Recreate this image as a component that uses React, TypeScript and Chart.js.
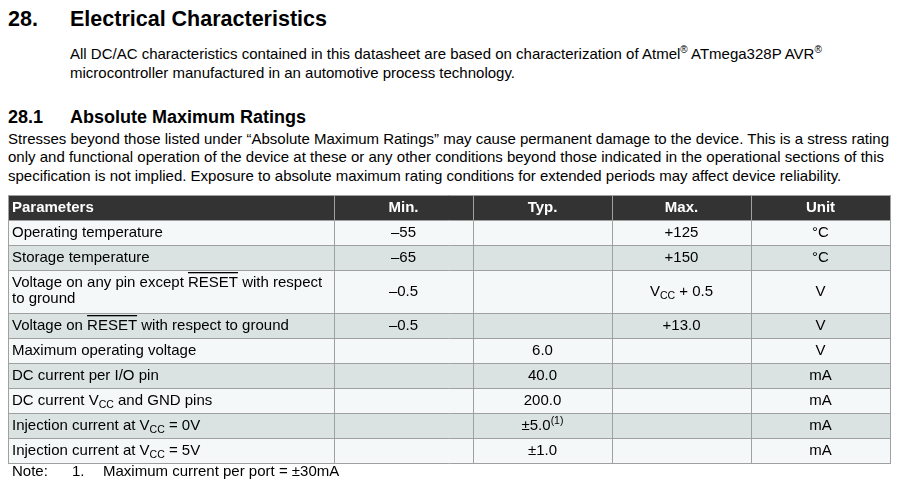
import React, { useEffect, useRef } from "react";
import { Chart, registerables } from "chart.js";

Chart.register(...registerables);

// ---- table content ----
const columns = ["Parameters", "Min.", "Typ.", "Max.", "Unit"];
const parameters = [
  "Operating temperature",
  "Storage temperature",
  "Voltage on any pin except ~{RESET} with respect\nto ground",
  "Voltage on ~{RESET} with respect to ground",
  "Maximum operating voltage",
  "DC current per I/O pin",
  "DC current V_{CC} and GND pins",
  "Injection current at V_{CC} = 0V",
  "Injection current at V_{CC} = 5V",
];
const minValues = ["–55", "–65", "–0.5", "–0.5", "", "", "", "", ""];
const typValues = ["", "", "", "", "6.0", "40.0", "200.0", "±5.0^{(1)}", "±1.0"];
const maxValues = ["+125", "+150", "V_{CC} + 0.5", "+13.0", "", "", "", "", ""];
const unitValues = ["°C", "°C", "V", "V", "V", "mA", "mA", "mA", "mA"];

// ---- layout (not data) ----
const colWidths = [326, 139, 139, 139, 139];
const headerHeight = 25;
const lineRowHeight = 25;
const twoLineRowHeight = 43;

const FONT = "'Liberation Sans', Arial, Helvetica, sans-serif";

type Seg = { t: string; k: "n" | "sub" | "sup" | "over" };

function parseRich(s: string): Seg[] {
  const out: Seg[] = [];
  const re = /(_\{[^}]*\}|\^\{[^}]*\}|~\{[^}]*\})/g;
  let last = 0;
  let m: RegExpExecArray | null;
  while ((m = re.exec(s))) {
    if (m.index > last) out.push({ t: s.slice(last, m.index), k: "n" });
    const tok = m[0];
    const inner = tok.slice(2, -1);
    out.push({ t: inner, k: tok[0] === "_" ? "sub" : tok[0] === "^" ? "sup" : "over" });
    last = m.index + tok.length;
  }
  if (last < s.length) out.push({ t: s.slice(last), k: "n" });
  return out;
}

function drawRich(
  ctx: CanvasRenderingContext2D,
  s: string,
  x: number,
  y: number,
  align: "left" | "center",
  size: number,
  bold: boolean,
  color: string
) {
  const segs = parseRich(s);
  const mainFont = `${bold ? "bold " : ""}${size}px ${FONT}`;
  const smallFont = `${bold ? "bold " : ""}${size * 0.7}px ${FONT}`;
  const widths = segs.map((sg) => {
    ctx.font = sg.k === "sub" || sg.k === "sup" ? smallFont : mainFont;
    return ctx.measureText(sg.t).width;
  });
  const total = widths.reduce((a, b) => a + b, 0);
  let cx = align === "center" ? x - total / 2 : x;
  ctx.fillStyle = color;
  ctx.textBaseline = "alphabetic";
  ctx.textAlign = "left";
  segs.forEach((sg, i) => {
    let yy = y;
    if (sg.k === "sub") {
      ctx.font = smallFont;
      yy = y + 3.5;
    } else if (sg.k === "sup") {
      ctx.font = smallFont;
      yy = y - 5.5;
    } else {
      ctx.font = mainFont;
    }
    ctx.fillText(sg.t, cx, yy);
    if (sg.k === "over") {
      ctx.fillStyle = color;
      ctx.fillRect(cx, Math.round(y - 15), widths[i], 1.3);
    }
    cx += widths[i];
  });
}

const tablePlugin = {
  id: "datasheetTable",
  afterDraw(chart: any) {
    const { ctx } = chart;
    const xs = chart.scales.x;
    const ys = chart.scales.y;
    const px = (v: number) => xs.getPixelForValue(v);
    const py = (v: number) => ys.getPixelForValue(v);

    const colEdges = [0];
    colWidths.forEach((w) => colEdges.push(colEdges[colEdges.length - 1] + w));
    const rowHeights = [
      headerHeight,
      ...parameters.map((p) => (p.includes("\n") ? twoLineRowHeight : lineRowHeight)),
    ];
    const rowEdges = [0];
    rowHeights.forEach((h) => rowEdges.push(rowEdges[rowEdges.length - 1] + h));
    const W = colEdges[colEdges.length - 1];

    ctx.save();
    // backgrounds
    rowHeights.forEach((h, r) => {
      ctx.fillStyle = r === 0 ? "#333333" : r % 2 === 1 ? "#f4f8f8" : "#dae3e1";
      ctx.fillRect(px(0), py(rowEdges[r]), px(W) - px(0), py(rowEdges[r + 1]) - py(rowEdges[r]));
    });

    // grid lines
    ctx.strokeStyle = "#a0a0a0";
    ctx.lineWidth = 1;
    rowEdges.forEach((e) => {
      const yy = Math.round(py(e)) + 0.5;
      ctx.beginPath();
      ctx.moveTo(Math.round(px(0)), yy);
      ctx.lineTo(Math.round(px(W)) + 1, yy);
      ctx.stroke();
    });
    colEdges.forEach((e) => {
      const xx = Math.round(px(e)) + 0.5;
      ctx.beginPath();
      ctx.moveTo(xx, Math.round(py(0)));
      ctx.lineTo(xx, Math.round(py(rowEdges[rowEdges.length - 1])) + 1);
      ctx.stroke();
    });

    // header text
    const hc = (py(0) + py(headerHeight)) / 2 + 4;
    columns.forEach((c, i) => {
      if (i === 0) drawRich(ctx, c, px(colEdges[0]) + 4, hc, "left", 15, true, "#ffffff");
      else drawRich(ctx, c, (px(colEdges[i]) + px(colEdges[i + 1])) / 2, hc, "center", 15, true, "#ffffff");
    });

    // body
    const cols = [parameters, minValues, typValues, maxValues, unitValues];
    parameters.forEach((_, r) => {
      const top = py(rowEdges[r + 1]);
      const bot = py(rowEdges[r + 2]);
      const mid = (top + bot) / 2;
      cols.forEach((col, ci) => {
        const txt = col[r];
        if (!txt) return;
        const lines = txt.split("\n");
        const lh = 16.5;
        lines.forEach((ln, li) => {
          const base = mid + 4.2 - ((lines.length - 1) * lh) / 2 - (lines.length > 1 ? 0.6 : 0) + li * lh;
          if (ci === 0) drawRich(ctx, ln, px(colEdges[0]) + 4, base, "left", 15, false, "#000000");
          else drawRich(ctx, ln, (px(colEdges[ci]) + px(colEdges[ci + 1])) / 2, base, "center", 15, false, "#000000");
        });
      });
    });
    ctx.restore();
  },
};

function TableChart() {
  const ref = useRef<HTMLCanvasElement | null>(null);
  useEffect(() => {
    if (!ref.current) return;
    const totalW = colWidths.reduce((a, b) => a + b, 0);
    const totalH =
      headerHeight +
      parameters.reduce((a, p) => a + (p.includes("\n") ? twoLineRowHeight : lineRowHeight), 0);
    const chart = new Chart(ref.current, {
      type: "scatter",
      data: { datasets: [{ data: [], pointRadius: 0 }] },
      options: {
        animation: false,
        responsive: false,
        maintainAspectRatio: false,
        devicePixelRatio: 1,
        layout: { padding: { left: 1, top: 1, right: 2, bottom: 2 } },
        plugins: { legend: { display: false }, tooltip: { enabled: false } },
        events: [],
        scales: {
          x: { type: "linear", min: 0, max: totalW, display: false },
          y: { type: "linear", min: 0, max: totalH, reverse: true, display: false },
        },
      },
      plugins: [tablePlugin],
    } as any);
    return () => chart.destroy();
  }, []);
  return (
    <canvas
      ref={ref}
      width={885}
      height={271}
      style={{ position: "absolute", left: 7, top: 194, width: 885, height: 271 }}
    />
  );
}

const sup: React.CSSProperties = { fontSize: 10, position: "relative", top: -6 };

export default function App() {
  const abs = (left: number, top: number, extra: React.CSSProperties = {}): React.CSSProperties => ({
    position: "absolute",
    left,
    top,
    whiteSpace: "nowrap",
    ...extra,
  });
  const h1: React.CSSProperties = { fontWeight: "bold", fontSize: 21.5, lineHeight: "25px" };
  const h2: React.CSSProperties = { fontWeight: "bold", fontSize: 18, lineHeight: "21px" };
  const p1: React.CSSProperties = { fontSize: 15, lineHeight: "19px" };
  const p2: React.CSSProperties = { fontSize: 15, lineHeight: "18.5px" };
  return (
    <div
      style={{
        position: "absolute",
        left: 0,
        top: 0,
        width: 912,
        height: 491,
        overflow: "hidden",
        background: "#ffffff",
        color: "#000000",
        fontFamily: FONT,
      }}
    >
      <div style={abs(8, 7, h1)}>28.</div>
      <div style={abs(70, 7, h1)}>Electrical Characteristics</div>

      <div style={abs(70, 43.8, p1)}>
        All DC/AC characteristics contained in this datasheet are based on characterization of Atmel
        <span style={sup}>®</span> ATmega328P AVR<span style={sup}>®</span>
      </div>
      <div style={abs(70, 62.8, p1)}>microcontroller manufactured in an automotive process technology.</div>

      <div style={abs(8, 107.3, h2)}>28.1</div>
      <div style={abs(70, 107.3, h2)}>Absolute Maximum Ratings</div>

      <div style={abs(8, 129.5, { ...p2, width: 876, textAlign: "justify", textAlignLast: "justify" })}>
        Stresses beyond those listed under “Absolute Maximum Ratings” may cause permanent damage to the device. This is a stress rating
      </div>
      <div style={abs(8, 148, { ...p2, width: 876, textAlign: "justify", textAlignLast: "justify" })}>
        only and functional operation of the device at these or any other conditions beyond those indicated in the operational sections of this
      </div>
      <div style={abs(8, 166.5, p2)}>
        specification is not implied. Exposure to absolute maximum rating conditions for extended periods may affect device reliability.
      </div>

      <TableChart />

      <div style={abs(12, 462, p2)}>Note:</div>
      <div style={abs(72, 462, p2)}>1.</div>
      <div style={abs(103, 462, p2)}>Maximum current per port = ±30mA</div>
    </div>
  );
}
